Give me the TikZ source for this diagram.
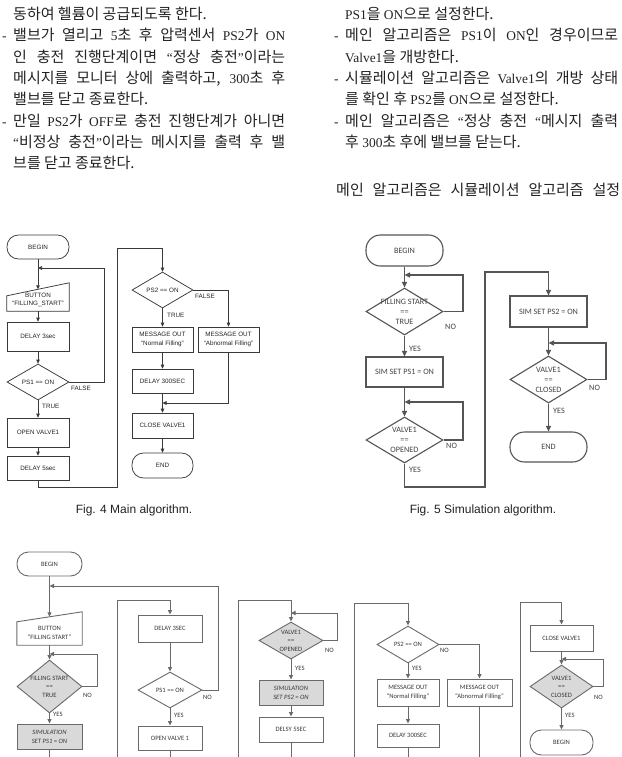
\documentclass[tikz,border=0pt]{standalone}
\usepackage{fontspec}
\setmainfont{Liberation Serif}
\newfontfamily\kr{Noto Sans CJK KR}
\newfontfamily\dfont{Liberation Sans}
\newfontfamily\cfont{Carlito}
\usetikzlibrary{shapes.geometric,arrows.meta,calc}
\newcommand{\K}[1]{{\kr\fontsize{15}{17}\selectfont #1}}
\newcommand{\bodysize}{\fontsize{13.4}{15}\selectfont}
\definecolor{txt}{HTML}{222222}
\definecolor{lnA}{HTML}{3A3A3A}
\definecolor{lnB}{HTML}{555555}
\definecolor{lnC}{HTML}{6A6A6A}
\definecolor{gfill}{HTML}{D9D9D9}
\tikzset{
  body/.style={anchor=base west, inner sep=0pt, text=txt, font=\bodysize},
  figcap/.style={inner sep=0pt, text=txt, font=\dfont\fontsize{12}{14}\selectfont},
  % Fig 4
  fA/.style={inner sep=0pt, text=txt, align=center, font=\dfont\fontsize{6.3}{8.4}\selectfont},
  bA/.style={fA, draw=lnA, line width=0.75pt, rectangle, minimum width=62pt},
  tA/.style={bA, rounded corners=11.5pt},
  dA/.style={draw=lnA, line width=0.75pt, diamond, inner sep=0pt, minimum width=62pt, minimum height=36pt},
  lA/.style={draw=lnA, line width=0.75pt},
  aA/.style={-{Triangle[length=4pt,width=3.6pt]}},
  % Fig 5
  fB/.style={inner sep=0pt, text=txt!85, align=center, font=\cfont\fontsize{8.2}{10}\selectfont},
  bB/.style={fB, draw=lnB, line width=1.1pt, rectangle, minimum width=77pt},
  tB/.style={bB, rounded corners=14.5pt},
  dB/.style={draw=lnB, line width=1.1pt, diamond, inner sep=0pt, minimum width=77pt, minimum height=47pt},
  lB/.style={draw=lnB, line width=1.1pt},
  aB/.style={-{Triangle[length=5.5pt,width=5pt]}},
  % bottom figure
  fC/.style={inner sep=0pt, text=txt!90, align=center, font=\cfont\fontsize{6.6}{8.6}\selectfont},
  bC/.style={fC, draw=lnC, line width=0.9pt, rectangle, minimum width=64pt},
  gC/.style={bC, fill=gfill, font=\cfont\itshape\fontsize{6.6}{8.8}\selectfont},
  tC/.style={bC, rounded corners=11.5pt},
  dC/.style={draw=lnC, line width=0.9pt, diamond, inner sep=0pt, minimum width=64pt},
  lC/.style={draw=lnC, line width=0.9pt},
  aC/.style={-{Triangle[length=4.5pt,width=4pt]}},
}
\begin{document}
\begin{tikzpicture}[x=1pt,y=-1pt]
\useasboundingbox (0,0) rectangle (621,757);
\fill[white] (0,0) rectangle (621,757);

% ---------------- body text, left column
\node[body] (l1) at (13,19.5) {\K{동하여 헬륨이 공급되도록 한다.}};
\node[body] (dl2) at (2,40.8) {-};
\node[body] (l2) at (13,40.8) {\makebox[272pt][s]{\K{밸브가 열리고} 5\K{초 후 압력센서} PS2\K{가} ON}};
\node[body] (l3) at (13,62.1) {\makebox[272pt][s]{\K{인 충전 진행단계이면} “\K{정상 충전}”\K{이라는}}};
\node[body] (l4) at (13,83.4) {\makebox[272pt][s]{\K{메시지를 모니터 상에 출력하고,} 300\K{초 후}}};
\node[body] (l5) at (13,104.7) {\K{밸브를 닫고 종료한다.}};
\node[body] (dl6) at (2,126) {-};
\node[body] (l6) at (13,126) {\makebox[272pt][s]{\K{만일} PS2\K{가} OFF\K{로 충전 진행단계가 아니면}}};
\node[body] (l7) at (13,147.3) {\makebox[272pt][s]{“\K{비정상 충전}”\K{이라는 메시지를 출력 후 밸}}};
\node[body] (l8) at (13,168.6) {\K{브를 닫고 종료한다.}};

% ---------------- body text, right column
\node[body] (r1) at (345,19.5) {PS1\K{을} ON\K{으로 설정한다.}};
\node[body] (dr2) at (334,40.8) {-};
\node[body] (r2) at (345,40.8) {\makebox[273pt][s]{\K{메인 알고리즘은} PS1\K{이} ON\K{인 경우이므로}}};
\node[body] (r3) at (345,62.1) {Valve1\K{을 개방한다.}};
\node[body] (dr4) at (334,83.4) {-};
\node[body] (r4) at (345,83.4) {\makebox[273pt][s]{\K{시뮬레이션 알고리즘은} Valve1\K{의 개방 상태}}};
\node[body] (r5) at (345,104.7) {\K{를 확인 후} PS2\K{를} ON\K{으로 설정한다.}};
\node[body] (dr6) at (334,126) {-};
\node[body] (r6) at (345,126) {\makebox[273pt][s]{\K{메인 알고리즘은} “\K{정상 충전} “\K{메시지 출력}}};
\node[body] (r7) at (345,147.3) {\K{후} 300\K{초 후에 밸브를 닫는다.}};
\node[body] (r8) at (336,195) {\makebox[284pt][s]{\K{메인 알고리즘은 시뮬레이션 알고리즘 설정}}};

% ---------------- Fig. 4
\node[tA, minimum height=24pt] (a_beg) at (38,247) {BEGIN};
\node[inner sep=0pt, minimum width=62pt, minimum height=28pt] (a_btn) at (38,297) {};
\draw[lA] (a_btn.south west) -- (a_btn.south east) -- (a_btn.north east) -- ([yshift=-13pt]a_btn.north west) -- cycle;
\node[fA] (a_btnt) at (38,300) {BUTTON\\“FILLING\_START”};
\coordinate (a_btntop) at ($(a_btn.north)+(0,6.5)$);
\node[bA, minimum height=29pt] (a_d3) at (38,336.5) {DELAY 3sec};
\node[dA] (a_ps1) at (38,382) {};
\node[fA] (a_ps1t) at (a_ps1) {PS1 == ON};
\node[fA, anchor=west] (a_f1) at (71,388) {FALSE};
\node[fA, anchor=west] (a_t1) at (42,406) {TRUE};
\node[bA, minimum height=29pt] (a_ov) at (38,432.5) {OPEN VALVE1};
\node[bA, minimum height=24pt] (a_d5) at (38,468) {DELAY 5sec};

\coordinate (a_j1) at (38,268);
\coordinate (a_k1) at (104,268);
\coordinate (a_c1) at (117,487);
\coordinate (a_c2) at (117,248);

\node[dA, minimum width=61pt] (a_ps2) at (162.5,290) {};
\node[fA] (a_ps2t) at (a_ps2) {PS2 == ON};
\node[fA, anchor=west] (a_f2) at (195,296) {FALSE};
\node[fA, anchor=west] (a_t2) at (167,315) {TRUE};
\node[bA, minimum width=61pt, minimum height=25pt] (a_mn) at (162.5,339.5) {MESSAGE OUT\\“Normal Filling”};
\node[bA, minimum width=61pt, minimum height=25pt] (a_ma) at (228.5,339.5) {MESSAGE OUT\\“Abnormal Filling”};
\node[bA, minimum width=61pt, minimum height=24pt] (a_d300) at (162.5,381) {DELAY 300SEC};
\coordinate (a_j2) at (162.5,403);
\node[bA, minimum width=61pt, minimum height=25pt] (a_cv) at (162.5,425.5) {CLOSE VALVE1};
\node[tA, minimum width=61pt, minimum height=25pt] (a_end) at (162.5,465.5) {END};

\draw[lA,aA] (a_beg.south) -- (a_btntop);
\draw[lA,aA] (a_ps1.east) -| (a_k1) -- (a_j1);
\draw[lA,aA] (a_btn.south) -- (a_d3.north);
\draw[lA,aA] (a_d3.south) -- (a_ps1.north);
\draw[lA,aA] (a_ps1.south) -- (a_ov.north);
\draw[lA,aA] (a_ov.south) -- (a_d5.north);
\draw[lA,aA] (a_d5.south) |- (a_c1) -- (a_c2) -| (a_ps2.north);
\draw[lA,aA] (a_ps2.east) -| (a_ma.north);
\draw[lA,aA] (a_ps2.south) -- (a_mn.north);
\draw[lA,aA] (a_mn.south) -- (a_d300.north);
\draw[lA,aA] (a_ma.south) |- (a_j2);
\draw[lA,aA] (a_d300.south) -- (a_cv.north);
\draw[lA,aA] (a_cv.south) -- (a_end.north);

\node[figcap] (cap4) at (134,510) {Fig. 4 Main algorithm.};

% ---------------- Fig. 5
\node[tB, minimum height=31pt] (b_beg) at (404.5,250.5) {BEGIN};
\coordinate (b_j1) at (404.5,275);
\coordinate (b_k1) at (463,275);
\node[dB] (b_fs) at (404.5,311.5) {};
\node[fB] (b_fst) at (b_fs) {FILLING START\\==\\TRUE};
\node[fB, anchor=west] (b_n1) at (445,327) {NO};
\node[fB, anchor=west] (b_y1) at (409,349) {YES};
\node[bB, minimum height=30pt] (b_s1) at (404.5,372) {SIM SET PS1 = ON};
\coordinate (b_j2) at (404.5,402);
\coordinate (b_k2) at (463,402);
\node[dB, minimum height=46pt] (b_vo) at (404.5,440) {};
\node[fB] (b_vot) at (b_vo) {VALVE1\\==\\OPENED};
\node[fB, anchor=west] (b_n2) at (446,446) {NO};
\node[fB, anchor=west] (b_y2) at (409,470) {YES};
\coordinate (b_c1) at (485,487);
\coordinate (b_c2) at (485,272);
\node[bB, minimum height=31pt] (b_s2) at (548.5,311.5) {SIM SET PS2 = ON};
\coordinate (b_j3) at (548.5,343);
\coordinate (b_k3) at (606,343);
\node[dB] (b_vc) at (548.5,379.5) {};
\node[fB] (b_vct) at (b_vc) {VALVE1\\==\\CLOSED};
\node[fB, anchor=west] (b_n3) at (589,388) {NO};
\node[fB, anchor=west] (b_y3) at (553,411) {YES};
\node[tB, minimum height=30pt] (b_end) at (548.5,447) {END};

\draw[lB,aB] (b_beg.south) -- (b_fs.north);
\draw[lB,aB] (b_fs.east) -| (b_k1) -- (b_j1);
\draw[lB,aB] (b_fs.south) -- (b_s1.north);
\draw[lB,aB] (b_s1.south) -- (b_vo.north);
\draw[lB,aB] (b_vo.east) -| (b_k2) -- (b_j2);
\draw[lB,aB] (b_vo.south) |- (b_c1) -- (b_c2) -| (b_s2.north);
\draw[lB,aB] (b_s2.south) -- (b_vc.north);
\draw[lB,aB] (b_vc.east) -| (b_k3) -- (b_j3);
\draw[lB,aB] (b_vc.south) -- (b_end.north);

\node[figcap] (cap5) at (483,510) {Fig. 5 Simulation algorithm.};

% ---------------- bottom figure
% column 1
\node[tC, minimum width=65pt, minimum height=24pt] (c_beg) at (49.5,564) {BEGIN};
\coordinate (c_j0) at (49.5,586);
\node[inner sep=0pt, minimum width=65pt, minimum height=33pt] (c_btn) at (49.5,628.5) {};
\draw[lC] (c_btn.south west) -- (c_btn.south east) -- (c_btn.north east) -- ([yshift=-10pt]c_btn.north west) -- cycle;
\node[fC] (c_btnt) at (49.5,633) {BUTTON\\“FILLING START”};
\coordinate (c_btntop) at ($(c_btn.north)+(0,5)$);
\coordinate (c_j1) at (49.5,654);
\coordinate (c_k1) at (97,654);
\node[dC, fill=gfill, minimum width=65pt, minimum height=53pt] (c_fs) at (49.5,686.5) {};
\node[fC] (c_fst) at (c_fs) {FILLING START\\==\\TRUE};
\node[fC, anchor=west] (c_n1) at (83,695) {NO};
\node[fC, anchor=west] (c_y1) at (53,714) {YES};
\node[gC, minimum width=65pt, minimum height=25pt] (c_s1) at (49.5,736.5) {SIMULATION\\SET PS1 = ON};
\coordinate (c_e1) at (49.5,757);

% column 2
\coordinate (c_c2a) at (117,757);
\coordinate (c_c2b) at (117,600);
\node[bC, minimum height=27pt] (c_d3) at (170,628.5) {DELAY 3SEC};
\node[dC, minimum height=36pt] (c_ps1) at (170,690) {};
\node[fC] (c_ps1t) at (c_ps1) {PS1 == ON};
\coordinate (c_k0) at (218,586);
\node[fC, anchor=west] (c_n2) at (203,697) {NO};
\node[fC, anchor=west] (c_y2) at (174,715) {YES};
\node[bC, minimum height=24pt] (c_ov) at (170,738) {OPEN VALVE 1};
\coordinate (c_e2) at (170,757);

% column 3
\coordinate (c_c3a) at (238,757);
\coordinate (c_c3b) at (238,600);
\coordinate (c_j3) at (291,613);
\coordinate (c_k3) at (337,613);
\node[dC, fill=gfill, minimum height=37pt] (c_vo) at (291,640.5) {};
\node[fC] (c_vot) at (c_vo) {VALVE1\\==\\OPENED};
\node[fC, anchor=west] (c_n3) at (325,650) {NO};
\node[fC, anchor=west] (c_y3) at (295,668) {YES};
\node[gC, minimum height=25pt] (c_s2) at (291,692.5) {SIMULATION\\SET PS2 = ON};
\node[bC, minimum height=25pt] (c_d5) at (291,729.5) {DELSY 5SEC};
\coordinate (c_e3) at (291,757);

% column 4
\coordinate (c_c4a) at (354,757);
\coordinate (c_c4b) at (354,603);
\node[dC, minimum width=62pt, minimum height=37pt] (c_ps2) at (408,644.5) {};
\node[fC] (c_ps2t) at (c_ps2) {PS2 == ON};
\node[fC, anchor=west] (c_n4) at (440,650) {NO};
\node[fC, anchor=west] (c_y4) at (412,668) {YES};
\node[bC, minimum width=62pt, minimum height=27pt] (c_mn) at (408,692.5) {MESSAGE OUT\\“Normal Filling”};
\node[bC, minimum width=65pt, minimum height=27pt] (c_ma) at (479.5,692.5) {MESSAGE OUT\\“Abnormal Filling”};
\node[bC, minimum width=62pt, minimum height=23pt] (c_d300) at (408,735.5) {DELAY 300SEC};
\coordinate (c_e4) at (408,757);
\coordinate (c_e5) at (479.5,757);

% column 5
\coordinate (c_c5a) at (520,757);
\coordinate (c_c5b) at (520,602);
\node[bC, minimum width=63pt, minimum height=26pt] (c_cv) at (561.5,638) {CLOSE VALVE1};
\coordinate (c_j5) at (561.5,659);
\coordinate (c_k5) at (603,659);
\node[dC, fill=gfill, minimum width=63pt, minimum height=43pt] (c_vc) at (561.5,686.5) {};
\node[fC] (c_vct) at (c_vc) {VALVE1\\==\\CLOSED};
\node[fC, anchor=west] (c_n5) at (594,697) {NO};
\node[fC, anchor=west] (c_y5) at (565,715) {YES};
\node[tC, minimum width=63pt, minimum height=25pt] (c_beg2) at (561.5,742.5) {BEGIN};

% connectors bottom
\draw[lC,aC] (c_beg.south) -- (c_btntop);
\draw[lC,aC] (c_ps1.east) -| (c_k0) -- (c_j0);
\draw[lC,aC] (c_btn.south) -- (c_fs.north);
\draw[lC,aC] (c_fs.east) -| (c_k1) -- (c_j1);
\draw[lC,aC] (c_fs.south) -- (c_s1.north);
\draw[lC] (c_s1.south) -- (c_e1);
\draw[lC,aC] (c_c2a) -- (c_c2b) -| (c_d3.north);
\draw[lC,aC] (c_d3.south) -- (c_ps1.north);
\draw[lC,aC] (c_ps1.south) -- (c_ov.north);
\draw[lC] (c_ov.south) -- (c_e2);
\draw[lC,aC] (c_c3a) -- (c_c3b) -| (c_vo.north);
\draw[lC,aC] (c_vo.east) -| (c_k3) -- (c_j3);
\draw[lC,aC] (c_vo.south) -- (c_s2.north);
\draw[lC,aC] (c_s2.south) -- (c_d5.north);
\draw[lC] (c_d5.south) -- (c_e3);
\draw[lC,aC] (c_c4a) -- (c_c4b) -| (c_ps2.north);
\draw[lC,aC] (c_ps2.east) -| (c_ma.north);
\draw[lC,aC] (c_ps2.south) -- (c_mn.north);
\draw[lC,aC] (c_mn.south) -- (c_d300.north);
\draw[lC] (c_d300.south) -- (c_e4);
\draw[lC] (c_ma.south) -- (c_e5);
\draw[lC,aC] (c_c5a) -- (c_c5b) -| (c_cv.north);
\draw[lC,aC] (c_cv.south) -- (c_vc.north);
\draw[lC,aC] (c_vc.east) -| (c_k5) -- (c_j5);
\draw[lC,aC] (c_vc.south) -- (c_beg2.north);
\end{tikzpicture}
\end{document}
